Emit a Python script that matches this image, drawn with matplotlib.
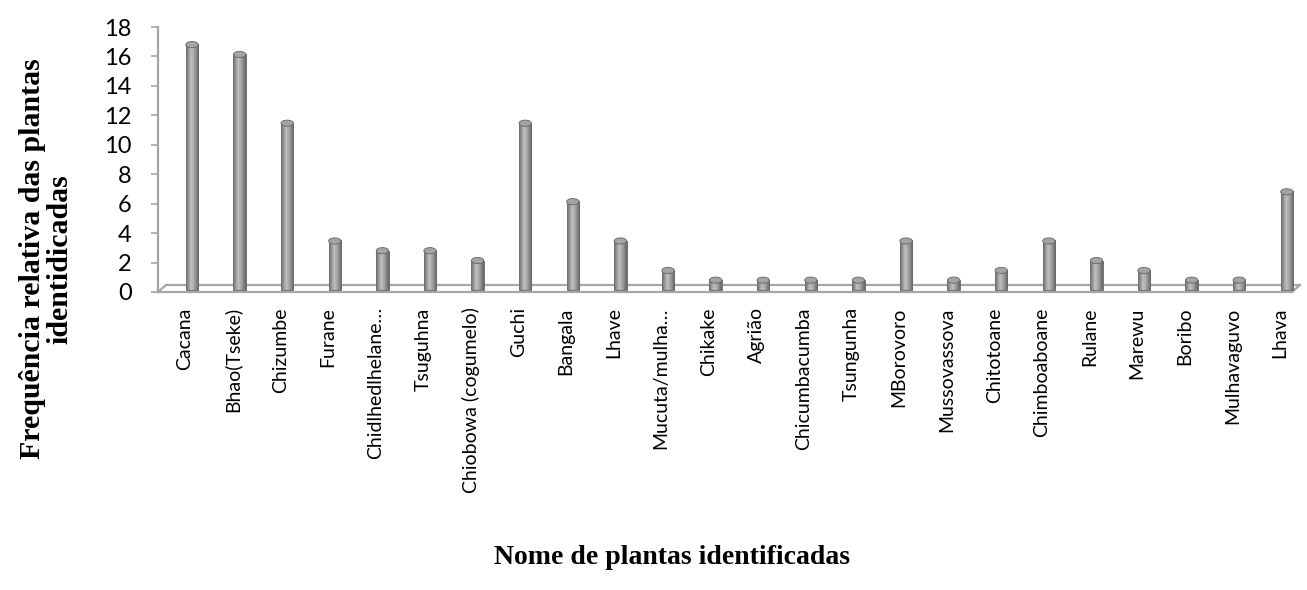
import numpy as np
import matplotlib
matplotlib.use("Agg")
import matplotlib.pyplot as plt
from matplotlib.patches import Ellipse
from matplotlib.colors import LinearSegmentedColormap
from matplotlib.transforms import ScaledTranslation

# Plant names and their relative frequency (%)
plantas = [
    "Cacana", "Bhao(Tseke)", "Chizumbe", "Furane", "Chidlhedlhelane…",
    "Tsuguhna", "Chiobowa (cogumelo)", "Guchi", "Bangala", "Lhave",
    "Mucuta/mulha…", "Chikake", "Agrião", "Chicumbacumba", "Tsungunha",
    "MBorovoro", "Mussovassova", "Chitotoane", "Chimboaboane", "Rulane",
    "Marewu", "Boribo", "Mulhavaguvo", "Lhava",
]
frequencia = [
    16.67, 16.0, 11.33, 3.33, 2.67,
    2.67, 2.0, 11.33, 6.0, 3.33,
    1.33, 0.67, 0.67, 0.67, 0.67,
    3.33, 0.67, 1.33, 3.33, 2.0,
    1.33, 0.67, 0.67, 6.67,
]
yticks = [0, 2, 4, 6, 8, 10, 12, 14, 16, 18]

W, H = 1307, 590
fig = plt.figure(figsize=(W / 100, H / 100), dpi=100)
ax = fig.add_axes([158 / W, (H - 292) / H, (1300 - 158) / W, 265 / H])

x = np.arange(len(plantas))
ax.set_xlim(-0.63, 23.36)
ax.set_ylim(0, 18)

axis_grey = "#a6a6a6"
px = fig.dpi_scale_trans

# floor of the 3D plot area (slanted parallelogram)
depth = ScaledTranslation(8 / 100, 7 / 100, px)
for tr in (ax.transAxes, ax.transAxes + depth):
    ax.plot([0, 0.993], [0, 0], transform=tr, color=axis_grey, lw=1.6,
            clip_on=False, zorder=1, solid_capstyle="butt")
for xa in (0.0, 0.993):
    x0, y0 = ax.transAxes.transform((xa, 0))
    ax.add_artist(plt.Line2D([x0, x0 + 8], [y0, y0 + 7], transform=None,
                             color=axis_grey, lw=1.6, clip_on=False, zorder=1))

# cylinder shading
cyl = LinearSegmentedColormap.from_list(
    "cyl", ["#6a6a6a", "#969696", "#c0c0c0", "#aaaaaa", "#888888", "#646464"])
grad = np.linspace(0, 1, 64).reshape(1, -1)

bw = 0.26
shift = ScaledTranslation(4 / 100, 2 / 100, px)
bars = ax.bar(x, frequencia, width=bw, bottom=0, color="#969696",
              transform=ax.transData + shift, zorder=3, clip_on=False)
cap_h = 0.42
for xi, v, b in zip(x, frequencia, bars):
    im = ax.imshow(grad, cmap=cyl, aspect="auto",
                   extent=(xi - bw / 2, xi + bw / 2, 0, v),
                   transform=ax.transData + shift, zorder=3.5, clip_on=False)
    im.set_clip_path(b)
    b.set_edgecolor("#666666")
    b.set_linewidth(0.6)
    cap = Ellipse((xi, v), bw, cap_h, transform=ax.transData + shift,
                  facecolor="#a4a4a4", edgecolor="#666666", lw=0.6,
                  zorder=4, clip_on=False)
    ax.add_patch(cap)

# axes styling
for s in ("top", "right", "bottom"):
    ax.spines[s].set_visible(False)
ax.spines["left"].set_color(axis_grey)
ax.spines["left"].set_linewidth(1.6)
ax.set_yticks(yticks)
ax.set_yticklabels([str(t) for t in yticks], family="Lato", size=17)
ax.tick_params(axis="y", length=5, width=1.2, color=axis_grey, pad=14)
ax.set_xticks(x)
ax.set_xticklabels(plantas, rotation=90, va="top", ha="center",
                   family="Lato", size=14)
ax.tick_params(axis="x", length=0, pad=11)
for lbl in ax.get_xticklabels():
    lbl.set_transform(lbl.get_transform() + ScaledTranslation(-3 / 100, 0, px))
ax.patch.set_visible(False)

serif_bold = dict(family="Liberation Serif", weight="bold", size=20)
fig.text(46 / W, 1 - 259 / H, "Frequência relativa das plantas\nidentidicadas",
         rotation=90, ha="center", va="center", multialignment="center",
         linespacing=1.0, family="Liberation Serif", weight="bold", size=21.5)
fig.text(672 / W, 1 - 558 / H, "Nome de plantas identificadas",
         ha="center", va="center", **serif_bold)

fig.savefig("out.png", dpi=100)
